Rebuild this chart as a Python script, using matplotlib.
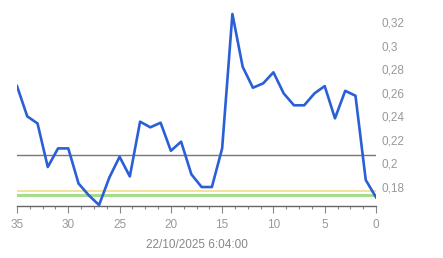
import matplotlib
matplotlib.use("Agg")
import matplotlib.pyplot as plt
from matplotlib.ticker import MultipleLocator, FuncFormatter

x_vals = list(range(35, -1, -1))
y_vals = [0.2657, 0.240, 0.234, 0.197, 0.2128, 0.2128, 0.183, 0.173, 0.1647,
          0.188, 0.2057, 0.189, 0.2355, 0.2307, 0.2346, 0.2108, 0.2185, 0.1908,
          0.180, 0.180, 0.2128, 0.3269, 0.2821, 0.2643, 0.268, 0.2774, 0.2595,
          0.2494, 0.2494, 0.2595, 0.2657, 0.2383, 0.2617, 0.2575, 0.186, 0.1713]
ref_gray = 0.2068
ref_yellow = 0.1766
ref_green = 0.1735
x_ticks = [35, 30, 25, 20, 15, 10, 5, 0]
y_ticks = [0.18, 0.2, 0.22, 0.24, 0.26, 0.28, 0.3, 0.32]
x_title = "22/10/2025 6:04:00"

plt.rcParams['font.family'] = ['Liberation Sans', 'DejaVu Sans']
fig = plt.figure(figsize=(4.43, 2.58), dpi=100)
ax = fig.add_axes([17/443, 52/258, 359/443, 196/258])

ax.axhline(ref_gray, color='#777777', lw=1.0, zorder=1)
ax.axhline(ref_yellow, color='#f3dc8c', lw=1.2, zorder=1)
ax.axhline(ref_green, color='#a6dd8c', lw=2.2, zorder=1)
ax.plot(x_vals, y_vals, color='#2a5fd6', lw=1.9, zorder=3)

ax.set_xlim(35, 0)
ax.set_ylim(0.1639, 0.3303)
for s in ['top', 'right', 'left']:
    ax.spines[s].set_visible(False)
ax.spines['bottom'].set_color('#666666')
ax.spines['bottom'].set_linewidth(1.0)

ax.set_xticks(x_ticks)
ax.xaxis.set_minor_locator(MultipleLocator(1.25))
ax.tick_params(axis='x', which='major', length=5, width=0.8, color='#888888',
               labelsize=8.5, labelcolor='#999999', pad=4)
ax.tick_params(axis='x', which='minor', length=2, width=0.8, color='#888888')

ax.yaxis.tick_right()
ax.set_yticks(y_ticks)
ax.yaxis.set_major_formatter(FuncFormatter(lambda v, p: ('%g' % round(v, 2)).replace('.', ',')))
ax.tick_params(axis='y', length=0, labelsize=8.5, labelcolor='#999999', pad=4)

ax.set_xlabel(x_title, fontsize=8.5, color='#888888', labelpad=6)

fig.savefig('out.png', dpi=100)
